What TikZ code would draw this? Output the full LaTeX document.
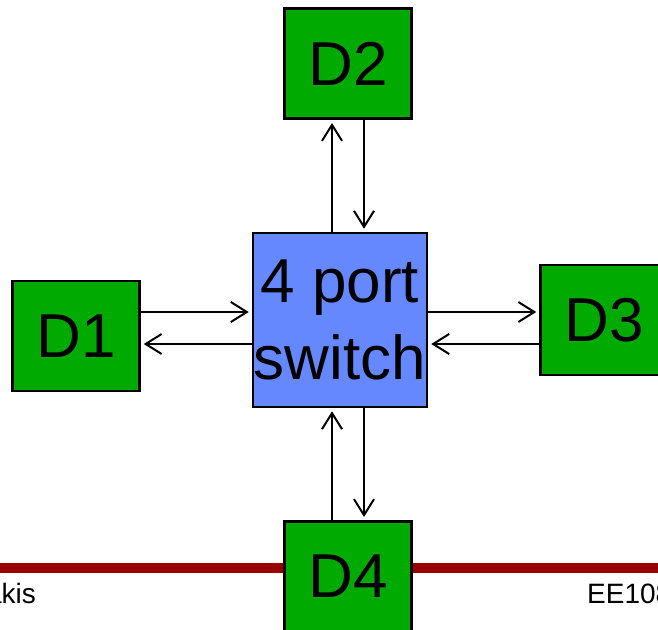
\documentclass[tikz,border=0pt]{standalone}
\usepackage{fontspec}
\setmainfont{Liberation Sans}
\usetikzlibrary{arrows.meta}
\definecolor{devgreen}{RGB}{0,170,0}
\definecolor{swblue}{RGB}{102,136,255}
\definecolor{barred}{RGB}{153,0,0}
\tikzset{
  dev/.style={draw=black, line width=2.5pt, fill=devgreen, minimum width=127pt, minimum height=110pt, inner sep=0pt, font=\fontsize{62}{62}\selectfont},
  swbox/.style={draw=black, line width=2.5pt, fill=swblue, minimum width=174pt, minimum height=174pt, inner sep=0pt, align=center, font=\fontsize{62}{77}\selectfont},
  arr/.style={line width=2pt, -{Straight Barb[length=16pt,width=20pt,line width=2pt]}, shorten >=3pt},
  foot/.style={font=\fontsize{28}{28}\selectfont, inner sep=0pt}
}
\begin{document}
\begin{tikzpicture}[x=1pt,y=-1pt]
\useasboundingbox (0,0) rectangle (658,629);
\clip (0,0) rectangle (658,629);
\fill[white] (0,0) rectangle (658,629);
% footer bar and texts
\coordinate (barL) at (0,568);
\coordinate (barR) at (658,568);
\draw[barred, line width=10pt] (barL) -- (barR);
\node[foot, anchor=base east] (fl) at (36,603) {akis};
\node[foot, anchor=base west] (fr) at (587,603) {EE108};
% nodes
\node[swbox] (sw) at (340,320) {4 port\\switch};
\node[dev] (d2) at (348,63.7) {D2};
\node[dev] (d1) at (76,336) {D1};
\node[dev] (d3) at (604,320) {D3};
\node[dev] (d4) at (348,576.3) {D4};
% connectors
\draw[arr] ([xshift=-8pt]sw.north) -- ([xshift=-16pt]d2.south);
\draw[arr] ([xshift=16pt]d2.south) -- ([xshift=24pt]sw.north);
\draw[arr] ([yshift=24pt]d1.east) -- ([yshift=8pt]sw.west);
\draw[arr] ([yshift=-24pt]sw.west) -- ([yshift=-8pt]d1.east);
\draw[arr] ([yshift=8pt]sw.east) -- ([yshift=8pt]d3.west);
\draw[arr] ([yshift=-24pt]d3.west) -- ([yshift=-24pt]sw.east);
\draw[arr] ([xshift=-16pt]d4.north) -- ([xshift=-8pt]sw.south);
\draw[arr] ([xshift=24pt]sw.south) -- ([xshift=16pt]d4.north);
\end{tikzpicture}
\end{document}
